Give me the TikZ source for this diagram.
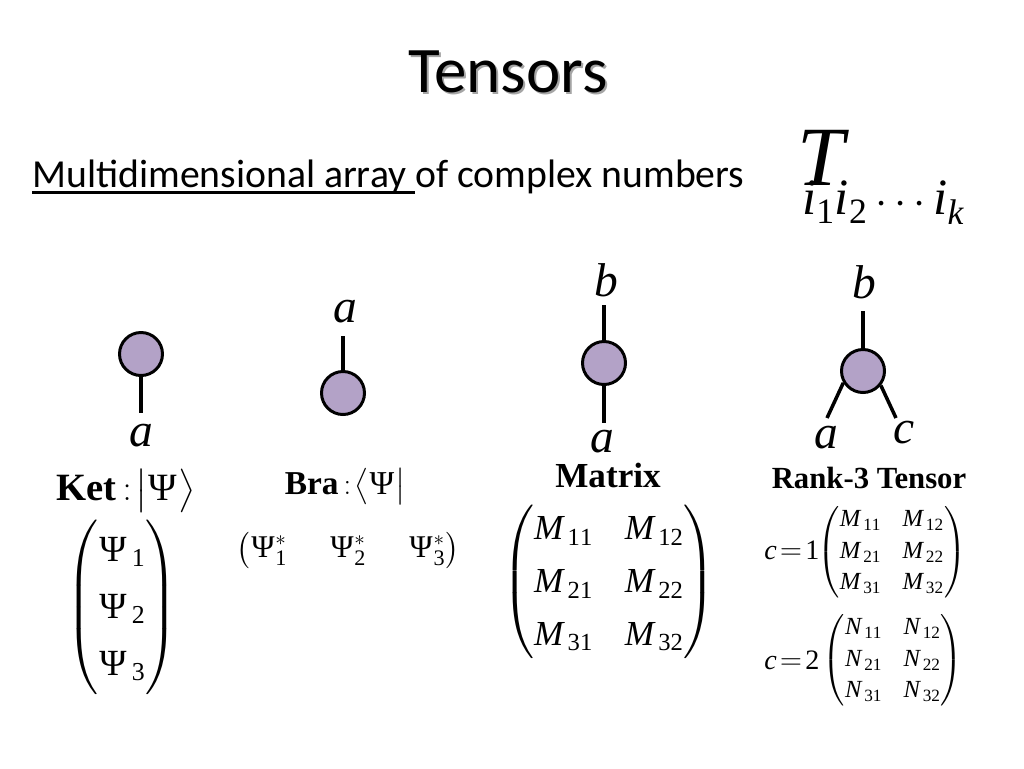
\documentclass[tikz,border=0pt]{standalone}
\usepackage{amsmath}
\usepackage{mathspec}
\setmainfont{Carlito}
\setmathsfont(Digits,Latin,Greek){Liberation Serif}
\newfontfamily\timesfont{Liberation Serif}
\usetikzlibrary{positioning}
\definecolor{nodefill}{RGB}{179,162,199}
\definecolor{shadowgray}{RGB}{165,165,165}
\tikzset{
  tensor/.style={circle, draw=black, fill=nodefill, line width=1.7pt,
    minimum size=0.86cm, inner sep=0pt},
  leg/.style={line width=2pt},
  index/.style={font=\fontsize{27}{30}\selectfont, inner sep=0pt},
  caption/.style={font=\timesfont\bfseries\fontsize{20}{24}\selectfont, inner sep=0pt},
  entries/.style={font=\fontsize{21}{25}\selectfont, inner sep=0pt},
  small entries/.style={font=\fontsize{14}{17}\selectfont, inner sep=0pt}
}
\newcommand{\stretchrows}[2]{\renewcommand{\arraystretch}{#1}\setlength{\arraycolsep}{#2}}
\newcommand{\ulinetext}[1]{{\setbox0\hbox{#1}\rlap{\rule[-0.17em]{\wd0}{0.07em}}\box0}}

\begin{document}
\begin{tikzpicture}[x=0.02cm, y=-0.02cm]
  \useasboundingbox (0,0) rectangle (1024,768);

  % Title
  \node[font=\fontsize{37}{44}\selectfont, text=shadowgray, anchor=base] at (510,94) {Tensors};
  \node[font=\fontsize{37}{44}\selectfont, anchor=base] (title) at (508,92) {Tensors};

  % Subtitle and definition
  \node[font=\fontsize{22.6}{26}\selectfont, anchor=base west, inner sep=0pt] (sub) at (32,187)
    {\ulinetext{Multidimensional array\ }of complex numbers};
  \node[font=\fontsize{48}{56}\selectfont, anchor=base west, inner sep=0pt] (tdef) at (797,185)
    {$T$\hspace{-24pt}\raisebox{-17pt}{\fontsize{29}{32}\selectfont$i_1 i_2 \cdots i_k$}};

  % Ket
  \node[tensor] (ket) at (141,354) {};
  \coordinate (ket_a) at (141,413);
  \draw[leg] (ket.south) -- (ket_a);
  \node[index, anchor=base] (ket_la) at (141,446) {$a$};
  \node[font=\fontsize{22}{26}\selectfont, anchor=base, inner sep=0pt] (ket_cap) at (126,500)
    {{\timesfont\bfseries Ket}$\,:\!\bigl|\Psi\bigr\rangle$};
  \node[entries] (ket_vec) at (122,607)
    {\stretchrows{1.3}{5pt}$\begin{pmatrix}\Psi_{\,1}\\ \Psi_{\,2}\\ \Psi_{\,3}\end{pmatrix}$};

  % Bra
  \node[tensor] (bra) at (343,393) {};
  \coordinate (bra_a) at (343,336);
  \draw[leg] (bra.north) -- (bra_a);
  \node[index, anchor=base] (bra_la) at (345,322) {$a$};
  \node[font=\fontsize{19}{23}\selectfont, anchor=base, inner sep=0pt] (bra_cap) at (345,494)
    {{\timesfont\bfseries Bra}$\,:\!\bigl\langle\Psi\bigr|$};
  \node[font=\fontsize{18}{22}\selectfont, inner sep=0pt] (bra_vec) at (348,550)
    {\stretchrows{1}{12pt}$\begin{pmatrix}\Psi_1^{*} & \Psi_2^{*} & \Psi_3^{*}\end{pmatrix}$};

  % Matrix
  \node[tensor] (mat) at (604,363) {};
  \coordinate (mat_b) at (604,305);
  \coordinate (mat_a) at (604,423);
  \draw[leg] (mat.north) -- (mat_b);
  \draw[leg] (mat.south) -- (mat_a);
  \node[index, anchor=base] (mat_lb) at (606,296) {$b$};
  \node[index, anchor=base] (mat_la) at (602,452) {$a$};
  \node[caption, anchor=base] (mat_cap) at (608,487) {Matrix};
  \node[entries, font=\fontsize{20}{24}\selectfont] (mat_arr) at (609,582)
    {\stretchrows{1.25}{9pt}$\begin{pmatrix}M_{\,11} & M_{\,12}\\ M_{\,21} & M_{\,22}\\ M_{\,31} & M_{\,32}\end{pmatrix}$};

  % Rank-3 tensor
  \node[tensor] (rk) at (863,371) {};
  \coordinate (rk_b) at (863,311);
  \coordinate (rk_a) at (827,418);
  \coordinate (rk_c) at (896,418);
  \draw[leg] (rk.north) -- (rk_b);
  \draw[leg] (rk.211) -- (rk_a);
  \draw[leg] (rk.321) -- (rk_c);
  \node[index, anchor=base] (rk_lb) at (864,298) {$b$};
  \node[index, anchor=base] (rk_la) at (826,448) {$a$};
  \node[index, anchor=base] (rk_lc) at (904,443) {$c$};
  \node[caption, font=\timesfont\bfseries\fontsize{17.5}{20}\selectfont, anchor=base] (rk_cap) at (869,488) {Rank-3 Tensor};
  \node[small entries, font=\fontsize{16}{19}\selectfont, anchor=base west] (rk_l1) at (764,559) {$c\mskip2mu{=}\mskip2mu1$};
  \node[small entries] (rk_m1) at (892,552)
    {\stretchrows{1.05}{6pt}$\begin{pmatrix}M_{\,11} & M_{\,12}\\ M_{\,21} & M_{\,22}\\ M_{\,31} & M_{\,32}\end{pmatrix}$};
  \node[small entries, font=\fontsize{16}{19}\selectfont, anchor=base west] (rk_l2) at (764,669) {$c\mskip2mu{=}\mskip2mu2$};
  \node[small entries] (rk_m2) at (893,660)
    {\stretchrows{1.05}{6pt}$\begin{pmatrix}N_{\,11} & N_{\,12}\\ N_{\,21} & N_{\,22}\\ N_{\,31} & N_{\,32}\end{pmatrix}$};
\end{tikzpicture}
\end{document}
